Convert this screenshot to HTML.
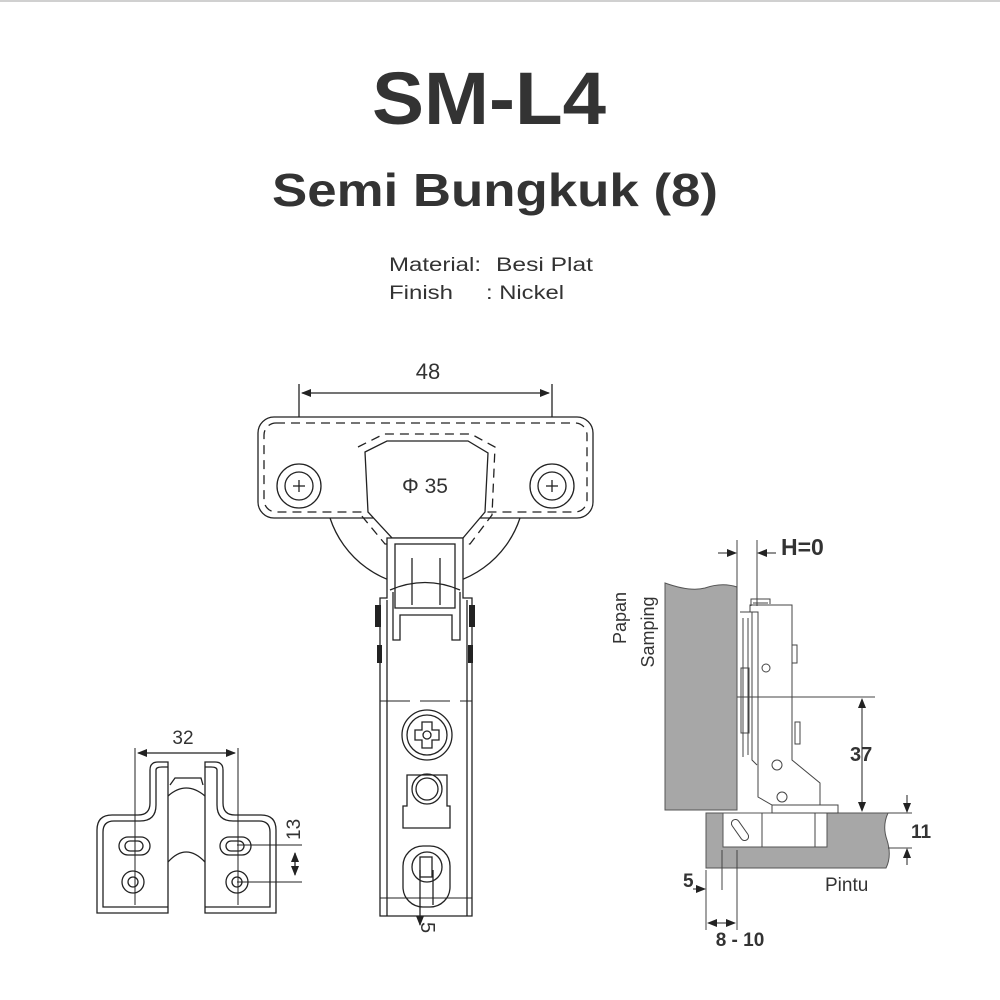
<!DOCTYPE html>
<html><head><meta charset="utf-8"><style>
html,body{margin:0;padding:0;background:#fff;}
svg{display:block}
text{font-family:"Liberation Sans",sans-serif;fill:#333;}
</style></head><body>
<svg width="1000" height="1000" viewBox="0 0 1000 1000" xmlns="http://www.w3.org/2000/svg">
<line x1="0" y1="1" x2="1000" y2="1" stroke="#d0d0d0" stroke-width="2"/>
<text x="372" y="124" font-size="74" font-weight="bold" fill="#333" textLength="234" lengthAdjust="spacingAndGlyphs">SM-L4</text>
<text x="272" y="206" font-size="46" font-weight="bold" fill="#333" textLength="446" lengthAdjust="spacingAndGlyphs">Semi Bungkuk (8)</text>
<text x="389" y="271" font-size="19" fill="#333" textLength="92" lengthAdjust="spacingAndGlyphs">Material:</text>
<text x="496" y="271" font-size="19" fill="#333" textLength="97" lengthAdjust="spacingAndGlyphs">Besi  Plat</text>
<text x="389" y="299" font-size="19" fill="#333" textLength="64" lengthAdjust="spacingAndGlyphs">Finish</text>
<text x="486" y="299" font-size="19" fill="#333" textLength="78" lengthAdjust="spacingAndGlyphs">: Nickel</text>

<defs>
<marker id="ar" markerWidth="10" markerHeight="8" refX="9" refY="4" orient="auto-start-reverse" markerUnits="userSpaceOnUse">
<path d="M0,0 L10,4 L0,8 Z" fill="#222"/></marker>
</defs>

<g fill="none" stroke="#222" stroke-width="1.3">
<line x1="299" y1="384" x2="299" y2="488"/>
<line x1="552" y1="384" x2="552" y2="488"/>
<line x1="302" y1="393" x2="549" y2="393" marker-start="url(#ar)" marker-end="url(#ar)"/>
<path d="M330,518 A100,100 0 0 0 520,518" />
<rect x="258" y="417" width="335" height="101" rx="16" fill="#fff"/>
<rect x="264" y="423" width="323" height="89" rx="12" stroke-dasharray="9,6"/>
<path d="M365,452 L387,441 L468,441 L488,453 L485,512 L463,538 L392,538 L368,512 Z" fill="#fff"/>
<path d="M358,447 L384,434 L471,434 L495,447 L492,515 L470,544 L385,544 L361,515" stroke-dasharray="9,6"/>
<circle cx="299" cy="486" r="22"/><circle cx="299" cy="486" r="14"/>
<line x1="293" y1="486" x2="305" y2="486"/><line x1="299" y1="480" x2="299" y2="492"/>
<circle cx="552" cy="486" r="22"/><circle cx="552" cy="486" r="14"/>
<line x1="546" y1="486" x2="558" y2="486"/><line x1="552" y1="480" x2="552" y2="492"/>
<path d="M380,916 V598 H387 V538 H463 V598 H472 V916 Z" fill="#fff"/>
<line x1="387" y1="600" x2="387" y2="916"/>
<line x1="467" y1="600" x2="467" y2="916"/>
<rect x="395" y="544" width="60" height="64"/>
<path d="M390,590 Q425,575 460,590"/>
<line x1="412" y1="558" x2="412" y2="605"/>
<line x1="440" y1="558" x2="440" y2="605"/>
<path d="M393,592 V640 H400 V615 H452 V640 H460 V592"/>
<line x1="380" y1="701" x2="472" y2="701" stroke-dasharray="30,10" stroke-width="1"/>
<circle cx="427" cy="735" r="25"/><circle cx="427" cy="735" r="20"/>
<path d="M415,730 H422 V722 H432 V730 H439 V740 H432 V748 H422 V740 H415 Z"/>
<circle cx="427" cy="735" r="4"/>
<path d="M407,775 H447 V806 H450 V828 H403 V806 H407 Z"/>
<circle cx="427" cy="789" r="15"/><circle cx="427" cy="789" r="11"/>
<rect x="403" y="846" width="47" height="61" rx="20"/>
<circle cx="427" cy="867" r="15"/>
<rect x="420" y="857" width="12" height="20"/>
<line x1="380" y1="898" x2="472" y2="898" stroke-width="1"/>
<line x1="420" y1="870" x2="420" y2="925" marker-end="url(#ar)"/>
<line x1="433" y1="870" x2="433" y2="905"/>
</g>
<g fill="#222">
<rect x="375" y="605" width="6" height="22"/><rect x="469" y="605" width="6" height="22"/>
<rect x="377" y="645" width="5" height="18"/><rect x="468" y="645" width="5" height="18"/>
</g>
<text x="428" y="379" text-anchor="middle" font-size="22">48</text>
<text x="425" y="493" text-anchor="middle" font-size="21">Φ 35</text>
<text x="0" y="0" font-size="20" transform="translate(421,922) rotate(90)">5</text>

<g fill="none" stroke="#222" stroke-width="1.3">
<path d="M168,913 H97 V830 Q97,815 112,815 H138 Q150,815 150,803 V770 Q150,762 158,762 H168 Z"/>
<path d="M168,907 H103 V832 Q103,821 114,821 H140 Q156,821 156,805 V770 Q156,767 162,767 H168"/>
<path d="M205,913 H276 V830 Q276,815 261,815 H235 Q223,815 223,803 V770 Q223,762 215,762 H205 Z"/>
<path d="M205,907 H270 V832 Q270,821 259,821 H233 Q217,821 217,805 V770 Q217,767 211,767 H205"/>
<path d="M168,796 Q186,780 205,796"/>
<path d="M170,785 L175,778 H201 L203,785"/>
<path d="M168,862 Q186,842 205,862"/>
<rect x="119" y="837" width="31" height="18" rx="9"/>
<rect x="125" y="841" width="18" height="10" rx="5"/>
<rect x="220" y="837" width="31" height="18" rx="9"/>
<rect x="226" y="841" width="18" height="10" rx="5"/>
<circle cx="133" cy="882" r="11"/><circle cx="133" cy="882" r="5"/>
<circle cx="237" cy="882" r="11"/><circle cx="237" cy="882" r="5"/>
<line x1="135" y1="748" x2="135" y2="905" stroke-width="1"/>
<line x1="238" y1="748" x2="238" y2="905" stroke-width="1"/>
<line x1="138" y1="753" x2="235" y2="753" marker-start="url(#ar)" marker-end="url(#ar)"/>
<line x1="237" y1="845" x2="302" y2="845" stroke-width="1"/>
<line x1="237" y1="882" x2="302" y2="882" stroke-width="1"/>
<line x1="295" y1="853" x2="295" y2="875" marker-start="url(#ar)" marker-end="url(#ar)"/>
</g>
<text x="183" y="744" text-anchor="middle" font-size="19">32</text>
<text x="0" y="0" font-size="19" transform="translate(300,840) rotate(-90)">13</text>

<path d="M665,583 Q690,592 705,588 Q722,582 737,587 V810 H665 Z" fill="#a7a7a7" stroke="#555" stroke-width="1"/>
<path d="M706,813 H888 Q882,826 887,840 Q892,856 886,868 H706 Z" fill="#a7a7a7" stroke="#555" stroke-width="1"/>
<path d="M723,813 V847 H827 V813 Z" fill="#fff" stroke="#555" stroke-width="1"/>
<g fill="none" stroke="#444" stroke-width="1">
<line x1="762" y1="813" x2="762" y2="847"/>
<line x1="815" y1="813" x2="815" y2="847"/>
<rect x="736" y="818" width="8" height="24" rx="4" transform="rotate(-35 740 830)"/>
<path d="M750,605 H792 V760 L820,783 V805 H772 L758,797 V612 H750 Z" fill="#fff"/>
<path d="M740,612 H752 V760 L757,765"/>
<path d="M743,618 V757 M748,618 V755"/>
<rect x="741" y="668" width="8" height="65"/>
<rect x="772" y="805" width="66" height="8" fill="#fff"/>
<circle cx="766" cy="668" r="4"/><circle cx="777" cy="765" r="5"/><circle cx="782" cy="797" r="5"/>
<rect x="792" y="645" width="5" height="18"/>
<rect x="795" y="722" width="5" height="22"/>
<path d="M751,606 V599 H770 V604 M753,603 H768" />
<line x1="737" y1="540" x2="737" y2="600"/>
<line x1="757" y1="540" x2="757" y2="606"/>
<line x1="718" y1="553" x2="736" y2="553" stroke="#222" marker-end="url(#ar)"/>
<line x1="776" y1="553" x2="758" y2="553" stroke="#222" marker-end="url(#ar)"/>
<line x1="737" y1="697" x2="875" y2="697"/>
<line x1="862" y1="699" x2="862" y2="811" stroke="#222" marker-start="url(#ar)" marker-end="url(#ar)"/>
<line x1="888" y1="813" x2="912" y2="813"/>
<line x1="888" y1="848" x2="912" y2="848"/>
<line x1="907" y1="795" x2="907" y2="812" stroke="#222" marker-end="url(#ar)"/>
<line x1="907" y1="865" x2="907" y2="849" stroke="#222" marker-end="url(#ar)"/>
<line x1="706" y1="870" x2="706" y2="930"/>
<line x1="722" y1="850" x2="722" y2="890"/>
<line x1="737" y1="850" x2="737" y2="930"/>
<line x1="693" y1="889" x2="705" y2="889" stroke="#222" marker-end="url(#ar)"/>
<line x1="708" y1="923" x2="735" y2="923" stroke="#222" marker-start="url(#ar)" marker-end="url(#ar)"/>
</g>
<text x="781" y="555" font-size="23" font-weight="bold" fill="#222">H=0</text>
<text x="850" y="761" font-size="20" font-weight="bold" fill="#222">37</text>
<text x="911" y="838" font-size="19" font-weight="bold" fill="#222">11</text>
<text x="683" y="887" font-size="19" font-weight="bold" fill="#222">5</text>
<text x="740" y="946" text-anchor="middle" font-size="19" font-weight="bold" fill="#222">8 - 10</text>
<text x="825" y="891" font-size="19" fill="#222">Pintu</text>
<text x="0" y="0" font-size="18" fill="#222" text-anchor="middle" transform="translate(626,618) rotate(-90)">Papan</text>
<text x="0" y="0" font-size="18" fill="#222" text-anchor="middle" transform="translate(654,632) rotate(-90)">Samping</text>
</svg>
</body></html>
